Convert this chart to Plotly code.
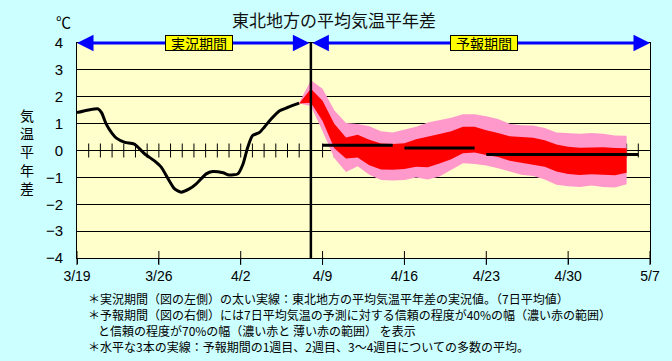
import plotly.graph_objects as go

# ---- data (x = days since 3/19) ----
tick_days = [0, 7, 14, 21, 28, 35, 42, 49]
tick_labels = ["3/19", "3/26", "4/2", "4/9", "4/16", "4/23", "4/30", "5/7"]

obs_day = [0, 1.0, 1.8, 2.1, 2.5, 3.0, 3.4, 4.1, 4.9, 5.8, 6.6, 7.2, 7.8, 8.35, 8.9,
           9.6, 10.2, 11.05, 11.6, 12.5, 13.0, 13.75, 14.2, 14.6, 15.0, 15.6, 16.0,
           16.6, 17.3, 18.0, 19.0]
obs_val = [1.41, 1.51, 1.55, 1.41, 0.98, 0.64, 0.45, 0.30, 0.24, -0.13, -0.38, -0.62,
           -1.06, -1.43, -1.55, -1.43, -1.24, -0.87, -0.78, -0.83, -0.91, -0.87, -0.50,
           0.12, 0.55, 0.67, 0.86, 1.17, 1.47, 1.60, 1.76]

fc_day = list(range(19, 48))
pink_upper = [1.78, 2.61, 2.30, 1.50, 1.02, 0.99, 0.90, 0.72, 0.67, 0.77, 0.88, 1.04,
              1.14, 1.22, 1.35, 1.35, 1.27, 1.17, 1.00, 0.94, 0.93, 0.84, 0.67, 0.64,
              0.62, 0.65, 0.62, 0.56, 0.55]
red_upper = [1.75, 2.30, 1.85, 1.00, 0.48, 0.59, 0.40, 0.26, 0.24, 0.27, 0.42, 0.51,
             0.61, 0.72, 0.88, 0.88, 0.75, 0.65, 0.53, 0.50, 0.47, 0.38, 0.22, 0.14,
             0.10, 0.11, 0.12, 0.09, 0.08]
red_lower = [1.75, 1.78, 1.10, 0.08, -0.30, -0.26, -0.55, -0.71, -0.72, -0.69, -0.60,
             -0.62, -0.48, -0.33, -0.10, -0.07, -0.17, -0.24, -0.38, -0.45, -0.52, -0.60,
             -0.78, -0.87, -0.91, -0.88, -0.90, -0.92, -0.83]
pink_lower = [1.75, 1.66, 0.72, -0.28, -0.80, -0.59, -0.90, -1.10, -1.12, -1.10, -1.00,
              -1.08, -0.97, -0.72, -0.47, -0.50, -0.56, -0.66, -0.79, -0.90, -0.95, -1.08,
              -1.27, -1.33, -1.36, -1.30, -1.36, -1.38, -1.26]

week_start = [21, 28, 35]
week_end = [27, 34, 48]
week_mean = [0.20, 0.09, -0.15]

forecast_start = 20
minor_days = list(range(1, 49))

# ---- layout helpers ----
L, R, T, B = 77, 652, 43, 258
def px(xp):
    return (xp - L) / (R - L)
def py(yp):
    return (B - yp) / (B - T)

JP = "Noto Sans CJK JP, sans-serif"
NUM = "Liberation Sans, Arial, sans-serif"

fig = go.Figure()

# daily ticks on the zero line
fig.add_trace(go.Scatter(x=minor_days, y=[0] * len(minor_days), mode="markers",
                         marker=dict(symbol="line-ns", size=10, line=dict(color="black", width=1)),
                         hoverinfo="skip", showlegend=False))
# crossing major ticks at bottom (inner part)
fig.add_trace(go.Scatter(x=tick_days, y=[-4] * len(tick_days), mode="markers",
                         marker=dict(symbol="line-ns", size=10, line=dict(color="black", width=1)),
                         cliponaxis=False, hoverinfo="skip", showlegend=False))

# 70% band (pink)
fig.add_trace(go.Scatter(x=fc_day, y=pink_upper, mode="lines", line=dict(width=0, color="#FF99CC"),
                         hoverinfo="skip", showlegend=False))
fig.add_trace(go.Scatter(x=fc_day, y=pink_lower, mode="lines", line=dict(width=0, color="#FF99CC"),
                         fill="tonexty", fillcolor="#FF99CC", hoverinfo="skip", showlegend=False))
# 40% band (red)
fig.add_trace(go.Scatter(x=fc_day, y=red_upper, mode="lines", line=dict(width=0, color="#FF0000"),
                         hoverinfo="skip", showlegend=False))
fig.add_trace(go.Scatter(x=fc_day, y=red_lower, mode="lines", line=dict(width=0, color="#FF0000"),
                         fill="tonexty", fillcolor="#FF0000", hoverinfo="skip", showlegend=False))

# weekly means
for s, e, m in zip(week_start, week_end, week_mean):
    fig.add_trace(go.Scatter(x=[s, e], y=[m, m], mode="lines", line=dict(color="black", width=3),
                             hoverinfo="skip", showlegend=False))

# observed line
fig.add_trace(go.Scatter(x=obs_day, y=obs_val, mode="lines",
                         line=dict(color="black", width=3, shape="spline", smoothing=0.6),
                         showlegend=False))

# boundary vertical line
fig.add_shape(type="line", xref="x", yref="y", x0=forecast_start, x1=forecast_start,
              y0=-4, y1=4, line=dict(color="black", width=2.5))

annotations = []
# blue arrows
for x_head, x_tail in [(0, forecast_start), (49, forecast_start)]:
    annotations.append(dict(x=x_head, y=4, ax=x_tail, ay=4, xref="x", yref="y",
                            axref="x", ayref="y", text="", showarrow=True,
                            arrowside="end+start", arrowhead=2, arrowsize=1.1,
                            arrowwidth=3, arrowcolor="#0000FF"))
# period labels
for xc, lab in [(10.4, "実況期間"), (34.8, "予報期間")]:
    annotations.append(dict(x=xc, y=4, xref="x", yref="y", text=lab, showarrow=False,
                            xanchor="center", yanchor="middle", width=66, height=14,
                            font=dict(family=JP, size=14, color="black"), bgcolor="#FFFF00",
                            bordercolor="black", borderwidth=1, borderpad=0))
# title
annotations.append(dict(x=px(335), y=py(20), xref="paper", yref="paper", text="東北地方の平均気温平年差",
                        xanchor="center", yanchor="middle",
                        showarrow=False, font=dict(family=JP, size=17, color="#111")))
annotations.append(dict(x=px(63), y=py(22), xref="paper", yref="paper", text="℃",
                        xanchor="center", yanchor="middle",
                        showarrow=False, font=dict(family=JP, size=15, color="black")))
annotations.append(dict(x=px(27), y=py(151), xref="paper", yref="paper",
                        text="気<br>温<br>平<br>年<br>差", showarrow=False,
                        xanchor="center", yanchor="middle",
                        font=dict(family=JP, size=14, color="black")))
# footnotes
notes = [
    (86, 298, "＊実況期間（図の左側）の太い実線：東北地方の平均気温平年差の実況値。（7日平均値）"),
    (86, 314, "＊予報期間（図の右側）には7日平均気温の予測に対する信頼の程度が40%の幅（濃い赤の範囲）"),
    (96, 330, "と信頼の程度が70%の幅（濃い赤と 薄い赤の範囲） を表示"),
    (86, 346, "＊水平な3本の実線：予報期間の1週目、2週目、3～4週目についての多数の平均。"),
]
for xp, yp, t in notes:
    annotations.append(dict(x=px(xp), y=py(yp), xref="paper", yref="paper", text=t,
                            xanchor="left", yanchor="middle", showarrow=False,
                            font=dict(family=JP, size=12, color="black")))

fig.update_layout(
    width=672, height=361,
    margin=dict(l=L, r=672 - R, t=T, b=361 - B),
    paper_bgcolor="#CCFFFF", plot_bgcolor="#FFFFCC",
    annotations=annotations,
    xaxis=dict(range=[0, 49], tickvals=tick_days, ticktext=tick_labels,
               showgrid=False, zeroline=False, showline=True, linecolor="black", linewidth=1,
               mirror=True, ticks="outside", ticklen=5, tickcolor="black",
               tickfont=dict(family=NUM, size=14, color="black"), fixedrange=True),
    yaxis=dict(range=[-4, 4], dtick=1, showgrid=True, gridcolor="black", gridwidth=1,
               zeroline=True, zerolinecolor="black", zerolinewidth=1,
               showline=True, linecolor="black", linewidth=1, mirror=True,
               ticks="", ticklabelstandoff=10,
               tickfont=dict(family=NUM, size=15, color="black"), fixedrange=True),
)

fig.write_html("out.html", config={"displayModeBar": False},
               post_script="document.body.style.margin='0';document.body.style.background='#CCFFFF';")
